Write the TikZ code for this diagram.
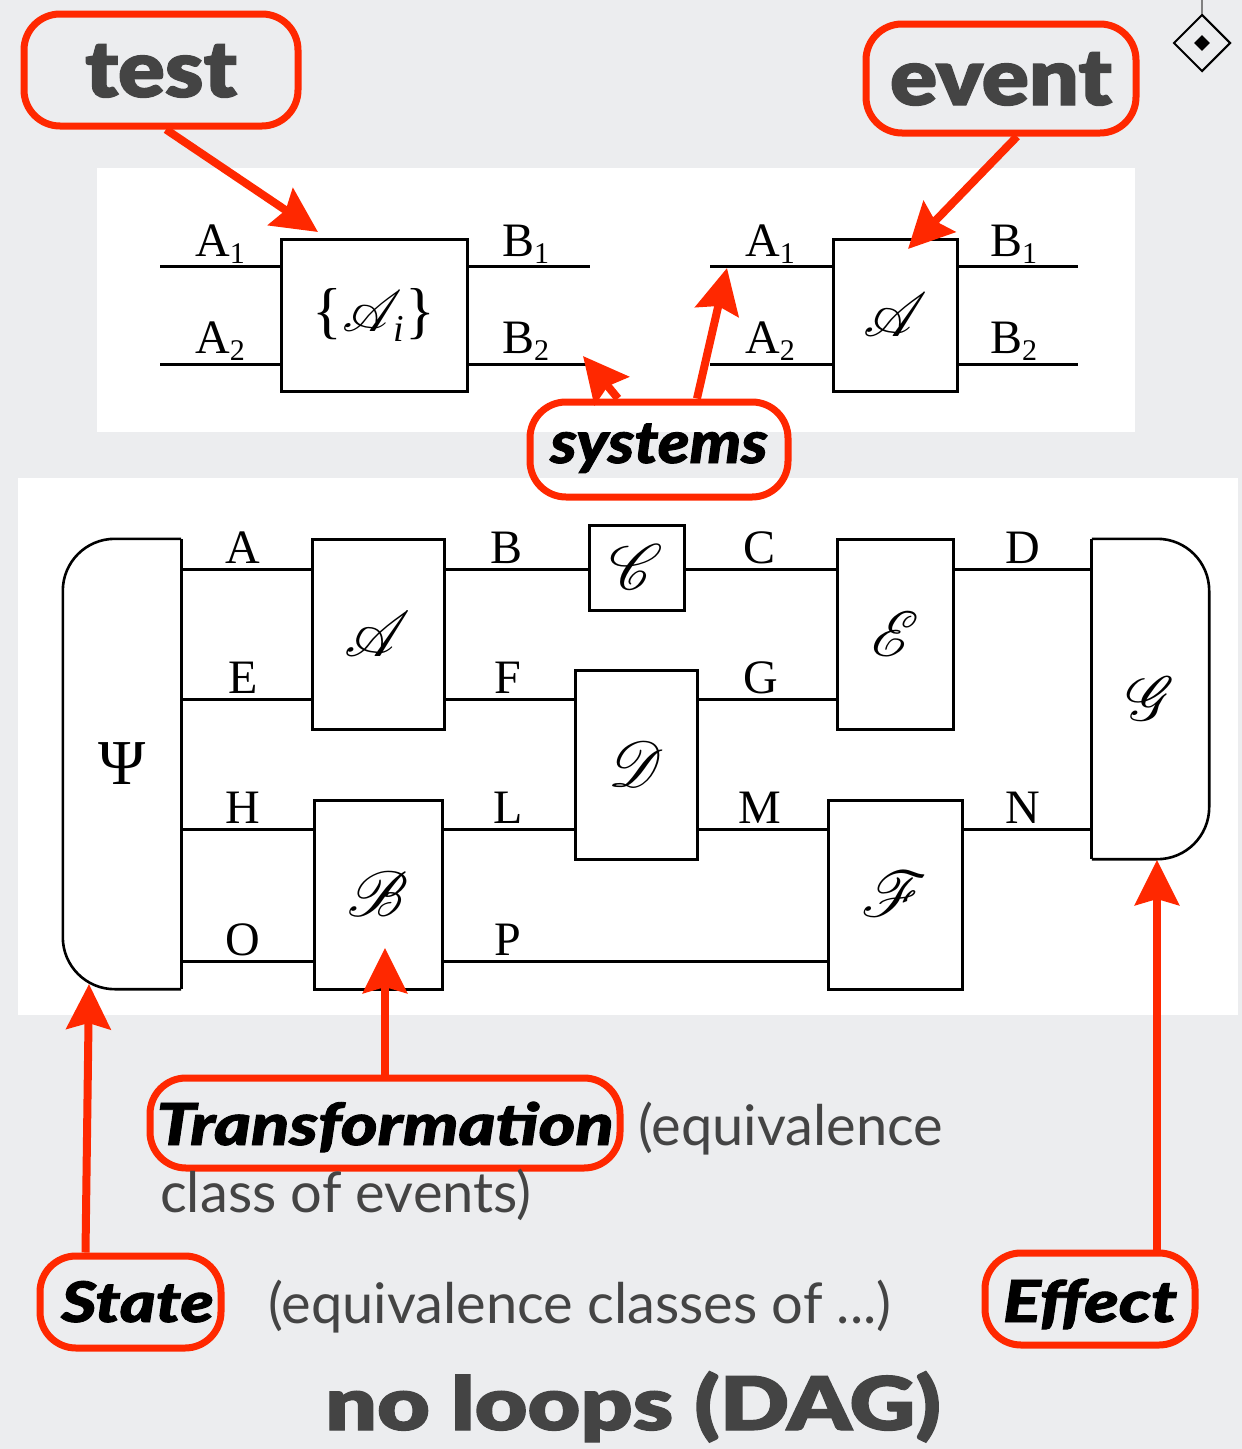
\documentclass[tikz,border=0pt]{standalone}
\usepackage{fontspec}
\usepackage{graphicx}
\usepackage{mathrsfs}
\usetikzlibrary{arrows.meta,shapes.geometric,calc}
% let the formal script scale to any size
\DeclareFontFamily{U}{rsfs}{\skewchar\font127 }
\DeclareFontShape{U}{rsfs}{m}{n}{<-6> rsfs5 <6-8> rsfs7 <8-> rsfs10}{}
\setmainfont{Liberation Serif}
\newfontfamily\lato{Lato}
\newfontfamily\latoheavy{Lato Black}[ItalicFont={Lato Black Italic}, FakeBold=1.5]
\definecolor{callred}{RGB}{255,40,0}
\definecolor{ink}{RGB}{68,68,68}
\definecolor{paper}{RGB}{236,237,239}
% label with a lowered numeric index, as in A1
\newcommand{\idx}[2]{#1\raisebox{-7pt}{\fontsize{30}{30}\selectfont #2}}
% horizontally widened word
\newcommand{\wide}[2]{\scalebox{#1}[1]{#2}}
\begin{document}
\begin{tikzpicture}[x=1pt,y=-1pt,
  wire/.style={line width=3pt},
  blk/.style={draw, line width=3pt, inner sep=0pt, font=\fontsize{64}{64}\selectfont},
  lab/.style={anchor=base, inner sep=0pt, font=\fontsize{48}{48}\selectfont},
  sublab/.style={anchor=base west, inner sep=0pt, font=\fontsize{48}{48}\selectfont},
  callout/.style={draw=callred, line width=7pt, rounded corners=36pt, inner sep=0pt},
  pointer/.style={draw=callred, line width=8pt, -{Stealth[length=45pt,width=44pt,inset=6pt]}},
  heavy/.style={font=\latoheavy\itshape\fontsize{#1}{#1}\selectfont, text=black},
  greytext/.style={anchor=base west, inner sep=0pt, text=ink, font=\lato\fontsize{#1}{#1}\selectfont}
]
\useasboundingbox (0,0) rectangle (1242,1449);
\fill[paper] (0,0) rectangle (1242,1449);
\fill[white] (97,168) rectangle (1135,432);
\fill[white] (18,478) rectangle (1238,1015);

% corner icon
\node[draw, diamond, line width=2pt, inner sep=0pt, minimum width=57pt, minimum height=57pt] (icon) at (1202,43) {};
\node[fill, diamond, inner sep=0pt, minimum width=16pt, minimum height=16pt] (icondot) at (icon.center) {};
\coordinate (icontop) at (1202,0);
\draw[gray, line width=2pt] (icon.north) -- (icontop);

% ---- upper panel: a test and an event ----
\node[blk, minimum width=186pt, minimum height=152pt] (T) at (374,315)
  {{\fontsize{62}{62}\selectfont\{}{\fontsize{58}{58}\selectfont$\mathscr{A}$}\kern-9pt\raisebox{-10pt}{\fontsize{38}{38}\selectfont\itshape i}\kern2pt{\fontsize{62}{62}\selectfont\}}};
\coordinate (ta1) at (160,266);
\coordinate (ta2) at (160,364);
\coordinate (tb1) at (590,266);
\coordinate (tb2) at (590,364);
\draw[wire] (ta1) -- (T.west |- ta1);
\draw[wire] (ta2) -- (T.west |- ta2);
\draw[wire] (T.east |- tb1) -- (tb1);
\draw[wire] (T.east |- tb2) -- (tb2);
\node[sublab] (tA1) at (195,256) {\idx{A}{1}};
\node[sublab] (tA2) at (195,353) {\idx{A}{2}};
\node[sublab] (tB1) at (502,256) {\idx{B}{1}};
\node[sublab] (tB2) at (502,353) {\idx{B}{2}};

\node[blk, minimum width=124pt, minimum height=152pt, font=\fontsize{62}{62}\selectfont] (Ev) at (895,315) {$\mathscr{A}$};
\coordinate (ea1) at (710,266);
\coordinate (ea2) at (710,364);
\coordinate (eb1) at (1078,266);
\coordinate (eb2) at (1078,364);
\draw[wire] (ea1) -- (Ev.west |- ea1);
\draw[wire] (ea2) -- (Ev.west |- ea2);
\draw[wire] (Ev.east |- eb1) -- (eb1);
\draw[wire] (Ev.east |- eb2) -- (eb2);
\node[sublab] (eA1) at (745,256) {\idx{A}{1}};
\node[sublab] (eA2) at (745,353) {\idx{A}{2}};
\node[sublab] (eB1) at (990,256) {\idx{B}{1}};
\node[sublab] (eB2) at (990,353) {\idx{B}{2}};

% ---- lower panel: a circuit ----
\coordinate (rA) at (0,569);
\coordinate (rE) at (0,699);
\coordinate (rH) at (0,829);
\coordinate (rO) at (0,961);

\node[inner sep=0pt, minimum width=118pt, minimum height=450pt, font=\fontsize{64}{64}\selectfont] (psi) at (122,764) {Ψ};
\draw[line width=2.6pt, rounded corners=52pt] (psi.north east) -- (psi.north west) -- (psi.south west) -- (psi.south east);
\draw[wire] (psi.north east) -- (psi.south east);

\node[inner sep=0pt, minimum width=117pt, minimum height=320pt, font=\fontsize{62}{62}\selectfont] (G) at (1150.5,699) {$\mathscr{G}$};
\draw[line width=2.6pt, rounded corners=52pt] (G.north west) -- (G.north east) -- (G.south east) -- (G.south west);
\draw[wire] (G.north west) -- (G.south west);

\node[blk, minimum width=132pt, minimum height=190pt] (bA) at (378,634) {$\mathscr{A}$};
\node[blk, minimum width=128pt, minimum height=189pt] (bB) at (378,894.5) {$\mathscr{B}$};
\node[blk, minimum width=95pt, minimum height=85pt] (bC) at (636.5,567.5) {$\mathscr{C}$};
\node[blk, minimum width=122pt, minimum height=189pt] (bD) at (636,764.5) {$\mathscr{D}$};
\node[blk, minimum width=116pt, minimum height=190pt] (bE) at (895,634) {$\mathscr{E}$};
\node[blk, minimum width=134pt, minimum height=189pt] (bF) at (895,894.5) {$\mathscr{F}$};

\draw[wire] (psi.east |- rA) -- (bA.west |- rA);
\draw[wire] (psi.east |- rE) -- (bA.west |- rE);
\draw[wire] (psi.east |- rH) -- (bB.west |- rH);
\draw[wire] (psi.east |- rO) -- (bB.west |- rO);
\draw[wire] (bA.east |- rA) -- (bC.west |- rA);
\draw[wire] (bA.east |- rE) -- (bD.west |- rE);
\draw[wire] (bB.east |- rH) -- (bD.west |- rH);
\draw[wire] (bB.east |- rO) -- (bF.west |- rO);
\draw[wire] (bC.east |- rA) -- (bE.west |- rA);
\draw[wire] (bD.east |- rE) -- (bE.west |- rE);
\draw[wire] (bD.east |- rH) -- (bF.west |- rH);
\draw[wire] (bE.east |- rA) -- (G.west |- rA);
\draw[wire] (bF.east |- rH) -- (G.west |- rH);

\node[lab] (wA) at (243,563) {A};
\node[lab] (wE) at (243,693) {E};
\node[lab] (wH) at (243,823) {H};
\node[lab] (wO) at (243,955) {O};
\node[lab] (wB) at (507,563) {B};
\node[lab] (wF) at (508,693) {F};
\node[lab] (wL) at (508,823) {L};
\node[lab] (wP) at (508,955) {P};
\node[lab] (wC) at (760,563) {C};
\node[lab] (wG) at (761,693) {G};
\node[lab] (wM) at (760,823) {M};
\node[lab] (wD) at (1023,563) {D};
\node[lab] (wN) at (1023,823) {N};

% ---- red call-outs ----
\node[callout, minimum width=274pt, minimum height=112pt, text height=54pt, text depth=0pt,
      text=ink, font=\latoheavy\fontsize{79}{79}\selectfont] (test) at (161,70) {\wide{1.1}{test}};
\node[callout, minimum width=270pt, minimum height=109pt, text height=53pt, text depth=0pt,
      text=ink, font=\latoheavy\fontsize{79}{79}\selectfont] (event) at (1001,78.5) {\wide{1.11}{event}};
\node[callout, heavy=59, minimum width=258pt, minimum height=95pt, text height=40pt, text depth=13pt] (sys) at (659,449.5) {\wide{1.1}{systems}};
\node[callout, heavy=58, minimum width=470pt, minimum height=90pt, text height=44pt, text depth=0pt] (trans) at (385,1123) {\wide{1.21}{Transformation}};
\node[callout, heavy=56, minimum width=181pt, minimum height=92pt, text height=40pt, text depth=0pt] (state) at (130.5,1302) {\hspace*{14pt}\wide{1.22}{State}};
\node[callout, heavy=58, minimum width=210pt, minimum height=92pt, text height=46pt, text depth=0pt] (effect) at (1090,1299) {\wide{1.22}{Effect}};

\coordinate (tipTest) at (318,232);
\coordinate (tipEvent) at (908,249);
\coordinate (tipSysB) at (583,356);
\coordinate (tipSysA) at (727,268);
\coordinate (tipTrans) at (385,948);
\coordinate (tipState) at (89,984);
\coordinate (tipEffect) at (1157,860);

\draw[pointer] ([xshift=5pt]test.south) -- (tipTest);
\draw[pointer] ([xshift=16pt]event.south) -- (tipEvent);
\draw[pointer] ([xshift=-41pt]sys.north) -- (tipSysB);
\draw[pointer] ([xshift=38pt]sys.north) -- (tipSysA);
\draw[pointer] (trans.north) -- (tipTrans);
\draw[pointer] ([xshift=-45pt]state.north) -- (tipState);
\draw[pointer] ([xshift=67pt]effect.north) -- (tipEffect);

% ---- captions ----
\node[greytext=56] (eq1) at (638,1145) {(equivalence};
\node[greytext=56] (eq2) at (160,1212) {class of events)};
\node[greytext=56] (eq3) at (268,1323) {(equivalence classes of ...)};
\node[anchor=base west, inner sep=0pt, text=ink, font=\latoheavy\fontsize{74}{74}\selectfont] (dag) at (325,1430) {\wide{1.23}{no loops (DAG)}};
\end{tikzpicture}
\end{document}
